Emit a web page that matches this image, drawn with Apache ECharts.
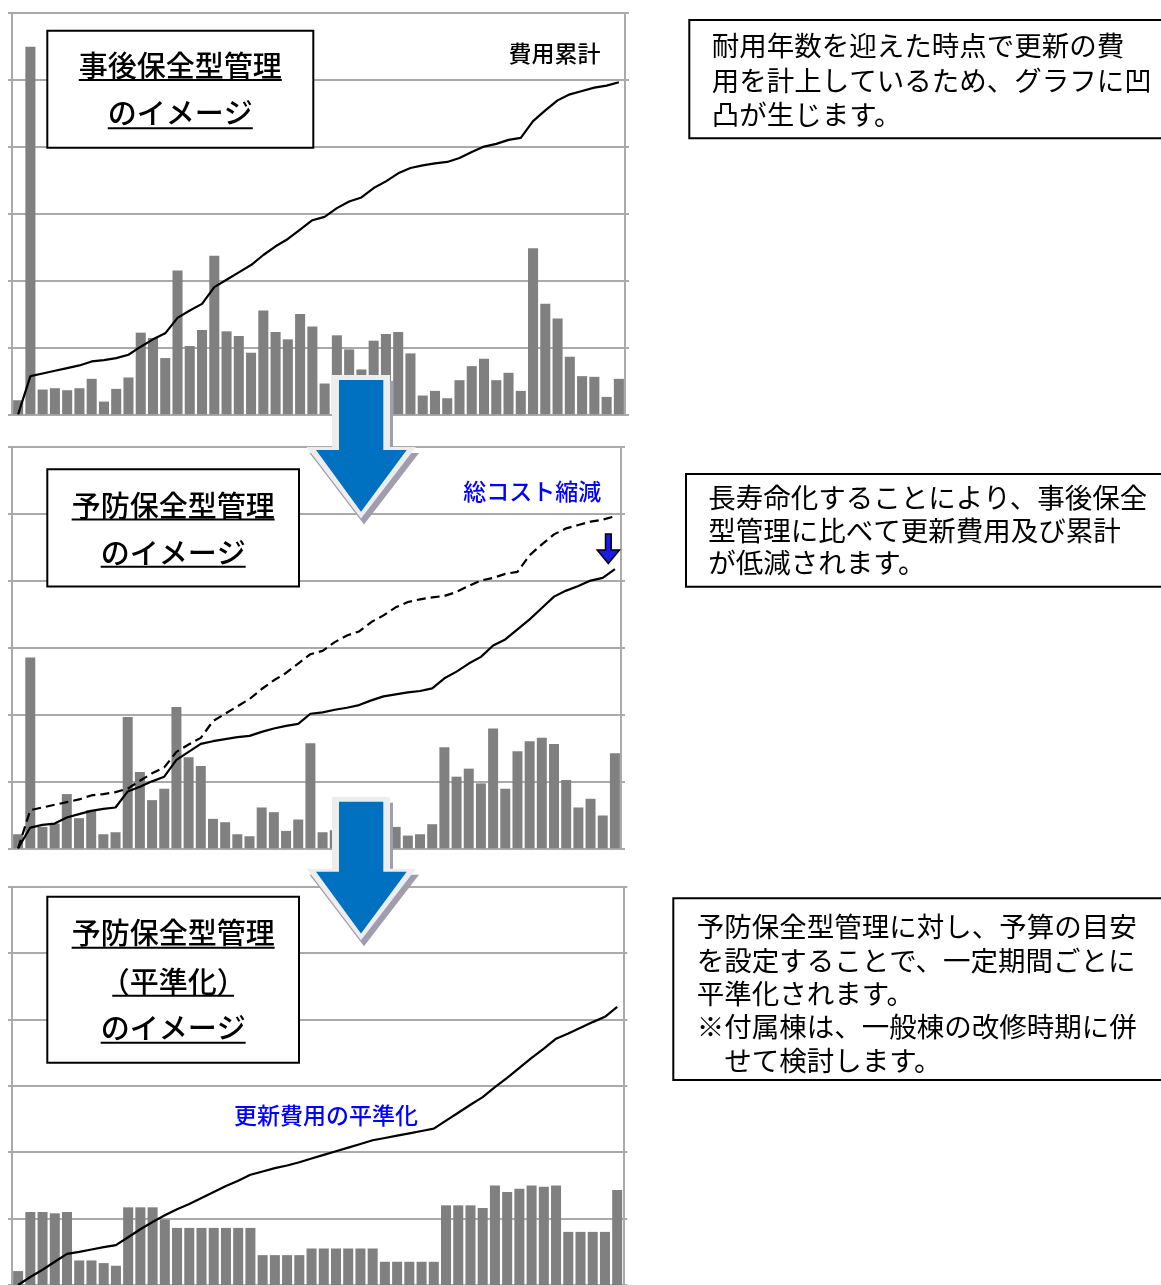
<!DOCTYPE html>
<html><head><meta charset="utf-8">
<script src="https://cdn.jsdelivr.net/npm/echarts@6/dist/echarts.min.js"></script>
<style>html,body{margin:0;padding:0;background:#fff}#c{width:1161px;height:1285px}</style>
</head><body><div id="c"></div>
<script>
// ---- data ----
const years = ['1','2','3','4','5','6','7','8','9','10','11','12','13','14','15','16','17','18','19','20','21','22','23','24','25','26','27','28','29','30','31','32','33','34','35','36','37','38','39','40','41','42','43','44','45','46','47','48','49','50'];
const yMin = 0, yMax = 60, yInterval = 10;

// 事後保全型管理: 更新費用 (bars) and 費用累計 (line)
const p1Cost = [2.1,54.9,3.7,3.9,3.6,3.9,5.3,1.9,3.8,5.5, 12.2,11.4,8.4,21.5,10.2,12.6,23.7,12.4,11.7,9.2, 15.5,12.3,11.2,15.0,13.1,4.6,11.8,9.7,6.7,11.0, 12.0,12.3,9.1,2.8,3.5,2.4,5.1,7.2,8.3,5.1, 6.2,3.5,24.8,16.5,14.3,8.6,5.7,5.6,2.6,5.3];
const p1Cum = [0,5.7,6.1,6.5,6.9,7.3,7.9,8.1,8.4,8.9, 10.1,11.2,12.1,14.4,15.5,16.5,19.0,20.1,21.2,22.3, 23.8,25.1,26.2,27.6,29.0,29.5,30.8,31.8,32.4,33.8, 34.8,36.0,36.8,37.2,37.5,37.7,38.3,39.2,40.0,40.4, 41.0,41.3,43.8,45.4,46.9,47.8,48.3,48.8,49.1,49.6];

// 予防保全型管理
const p2Cost = [2.1,28.5,3.2,3.7,8.1,4.5,5.7,2.1,2.4,19.6, 11.4,7.2,8.9,21.1,13.6,12.3,4.4,3.9,2.1,1.8, 6.1,5.4,2.6,4.3,15.7,2.4,2.7,3.5,3.0,5.5, 5.5,3.2,1.9,2.1,3.6,15.1,10.7,11.9,9.7,17.9, 8.9,14.5,16.0,16.5,15.6,10.2,6.1,7.4,4.9,14.2];
const p2Cum = [0,3.1,3.5,3.7,4.6,5.1,5.6,5.9,6.1,8.5, 9.2,10.0,10.7,13.2,14.4,15.6,16.0,16.3,16.6,16.8, 17.4,17.9,18.3,18.6,20.1,20.3,20.7,21.0,21.4,22.1, 22.7,23.0,23.3,23.5,23.9,25.4,26.4,27.6,28.6,30.3, 31.2,32.7,34.2,35.9,37.6,38.5,39.2,40.0,40.4,41.7];

// 予防保全型管理（平準化）
const p3Cost = [2.1,11.0,11.0,10.8,11.0,3.7,3.7,3.3,2.9,11.7, 11.7,11.7,9.85,8.6,8.6,8.6,8.6,8.6,8.6,8.6, 4.5,4.5,4.5,4.5,5.5,5.5,5.5,5.5,5.5,5.5, 3.5,3.5,3.5,3.5,3.5,12.0,12.0,12.0,11.6,15.0, 14.0,14.5,15.0,14.8,15.0,8.0,8.0,8.0,8.0,14.3];
const p3Cum = [0,1.2,2.3,3.5,4.7,5.0,5.35,5.7,6.0,7.2, 8.4,9.5,10.5,11.4,12.2,13.1,14.0,14.9,15.7,16.6, 17.1,17.6,18.0,18.5,19.05,19.6,20.15,20.7,21.25,21.8, 22.15,22.5,22.85,23.2,23.55,24.75,25.95,27.15,28.3,29.8, 31.2,32.7,34.2,35.6,37.1,37.9,38.75,39.6,40.4,41.9];

const titles1 = ['事後保全型管理','のイメージ'];
const titles2 = ['予防保全型管理','のイメージ'];
const titles3 = ['予防保全型管理','（平準化）','のイメージ'];
const note1 = ['耐用年数を迎えた時点で更新の費','用を計上しているため、グラフに凹','凸が生じます。'];
const note2 = ['長寿命化することにより、事後保全','型管理に比べて更新費用及び累計','が低減されます。'];
const note3 = ['予防保全型管理に対し、予算の目安','を設定することで、一定期間ごとに','平準化されます。','※付属棟は、一般棟の改修時期に併','　せて検討します。'];

// ---- layout / style ----
const FONT = '"Noto Sans CJK JP","Noto Sans CJK SC",sans-serif';
const gridCol = '#aaaaaa';
const grids = [
  {left:12, top:12.7, width:613, height:401.6},
  {left:12, top:446.7, width:609, height:401.6},
  {left:12, top:886.7, width:611.3, height:402}
];

const xAxes = grids.map((g,i)=>({
  type:'category', gridIndex:i, data:years, boundaryGap:true,
  axisLine:{show:true, lineStyle:{color:gridCol, width:2}},
  axisTick:{show:false}, axisLabel:{show:false}, splitLine:{show:false}
}));
const yAxes = [];
grids.forEach((g,i)=>{
  yAxes.push({type:'value', gridIndex:i, min:yMin, max:yMax, interval:yInterval, position:'left',
    axisLine:{show:true, lineStyle:{color:gridCol, width:2}},
    axisTick:{show:true, length:4, lineStyle:{color:gridCol, width:2}},
    axisLabel:{show:false},
    splitLine:{show:true, lineStyle:{color:gridCol, width:2}}});
  yAxes.push({type:'value', gridIndex:i, min:yMin, max:yMax, interval:yInterval, position:'right',
    axisLine:{show:true, lineStyle:{color:gridCol, width:2}},
    axisTick:{show:true, length:4, lineStyle:{color:gridCol, width:2}},
    axisLabel:{show:false}, splitLine:{show:false}});
});

function barS(i, data){ return {type:'bar', xAxisIndex:i, yAxisIndex:2*i, data, barCategoryGap:'18%',
  itemStyle:{color:'#808080'}, silent:true, z:2}; }
function lineS(i, data, dashed){ return {type:'line', xAxisIndex:i, yAxisIndex:2*i, data, symbol:'none', showSymbol:false,
  lineStyle:{color:'#000', width:2.2, type: dashed ? [9,5] : 'solid'}, silent:true, z:3}; }

const series = [
  barS(0,p1Cost), lineS(0,p1Cum,false),
  barS(1,p2Cost), lineS(1,p1Cum,true), lineS(1,p2Cum,false),
  barS(2,p3Cost), lineS(2,p3Cum,false)
];

// ---- graphics ----
const mctx = document.createElement('canvas').getContext('2d');
function tw(s,size){ mctx.font = size+'px '+FONT; return mctx.measureText(s).width; }
const G = [];
function rect(x,y,w,h){ G.push({type:'rect', shape:{x,y,width:w,height:h}, style:{fill:'#fff', stroke:'#000', lineWidth:2}, z:10, silent:true}); }
function text(s,x,y,size,fill,align,weight){ G.push({type:'text', x, y, style:{text:s, font:(weight||'normal')+' '+size+'px '+FONT, fill, align:align||'left', verticalAlign:'middle'}, z:11, silent:true}); }
function uline(cx,y,w){ G.push({type:'line', shape:{x1:cx-w/2,y1:y,x2:cx+w/2,y2:y}, style:{stroke:'#000', lineWidth:2}, z:11, silent:true}); }
function titleBox(box, lines, ys, uys){
  rect(box[0],box[1],box[2],box[3]);
  const cx = box[0]+box[2]/2;
  lines.forEach((s,k)=>{
    text(s,cx,ys[k],29,'#000','center','500');
    let w = tw(s,29);
    if (s.charAt(0)==='（') w -= 29*0.8;   // full-width brackets carry side bearing
    uline(cx,uys[k],w);
  });
}
titleBox([47.3,30.7,266,117], titles1, [65.5,112.5], [80,128.3]);
titleBox([47.3,469.3,251.7,117.3], titles2, [505.5,553], [519.5,566.7]);
titleBox([47.3,896.7,251.7,166], titles3, [932.5,981.5,1028.3], [947.7,995.7,1042.7]);

text('費用累計',554.5,53,23,'#000','center','500');
text('総コスト縮減',532.3,491.7,23,'#0000ff','center','500');
text('更新費用の平準化',326,1115,23,'#0000ff','center','500');

function noteBox(box, lines, x, ys){
  rect(box[0],box[1],box[2],box[3]);
  lines.forEach((s,k)=>text(s,x,ys[k],27.5,'#000','left'));
}
noteBox([689.3,20,520,118.3], note1, 711.7, [45.3,80.5,114.5]);
noteBox([686,474,520,112.7], note2, 708.3, [497.5,531,563]);
noteBox([673.3,898.3,540,181.7], note3, 696.7, [927,961,994,1027,1061]);

function poly(points, fill, z, stroke, lw){ return {type:'polygon', shape:{points}, style:{fill, stroke:stroke||null, lineWidth:lw||0}, z, silent:true}; }
function bigArrow(dy){
  const outer = [[332,375],[390,375],[390,447],[416,447],[361,518.5],[306.5,447],[332,447]].map(p=>[p[0],p[1]+dy]);
  const inner = [[339,380],[383.3,380],[383.3,450],[406.7,450],[361,511.7],[316,450],[339,450]].map(p=>[p[0],p[1]+dy]);
  const shadow = outer.map(p=>[p[0]+3,p[1]+6]);
  G.push(poly(shadow,'#a19dae',20), poly(outer,'#ededed',21), poly(inner,'#0070c0',22));
}
bigArrow(0);
bigArrow(421.7);
G.push(poly([[605.5,534],[611.2,534],[611.2,550],[619.5,550],[608.3,563.5],[597.2,550],[605.5,550]],'#1a1ae6',23,'#000',1.5));

const chart = echarts.init(document.getElementById('c'), null, {renderer:'canvas'});
chart.setOption({
  animation:false,
  backgroundColor:'#fff',
  grid: grids.map(g=>Object.assign({containLabel:false}, g)),
  xAxis: xAxes, yAxis: yAxes, series,
  graphic: {elements: G}
});
</script></body></html>
